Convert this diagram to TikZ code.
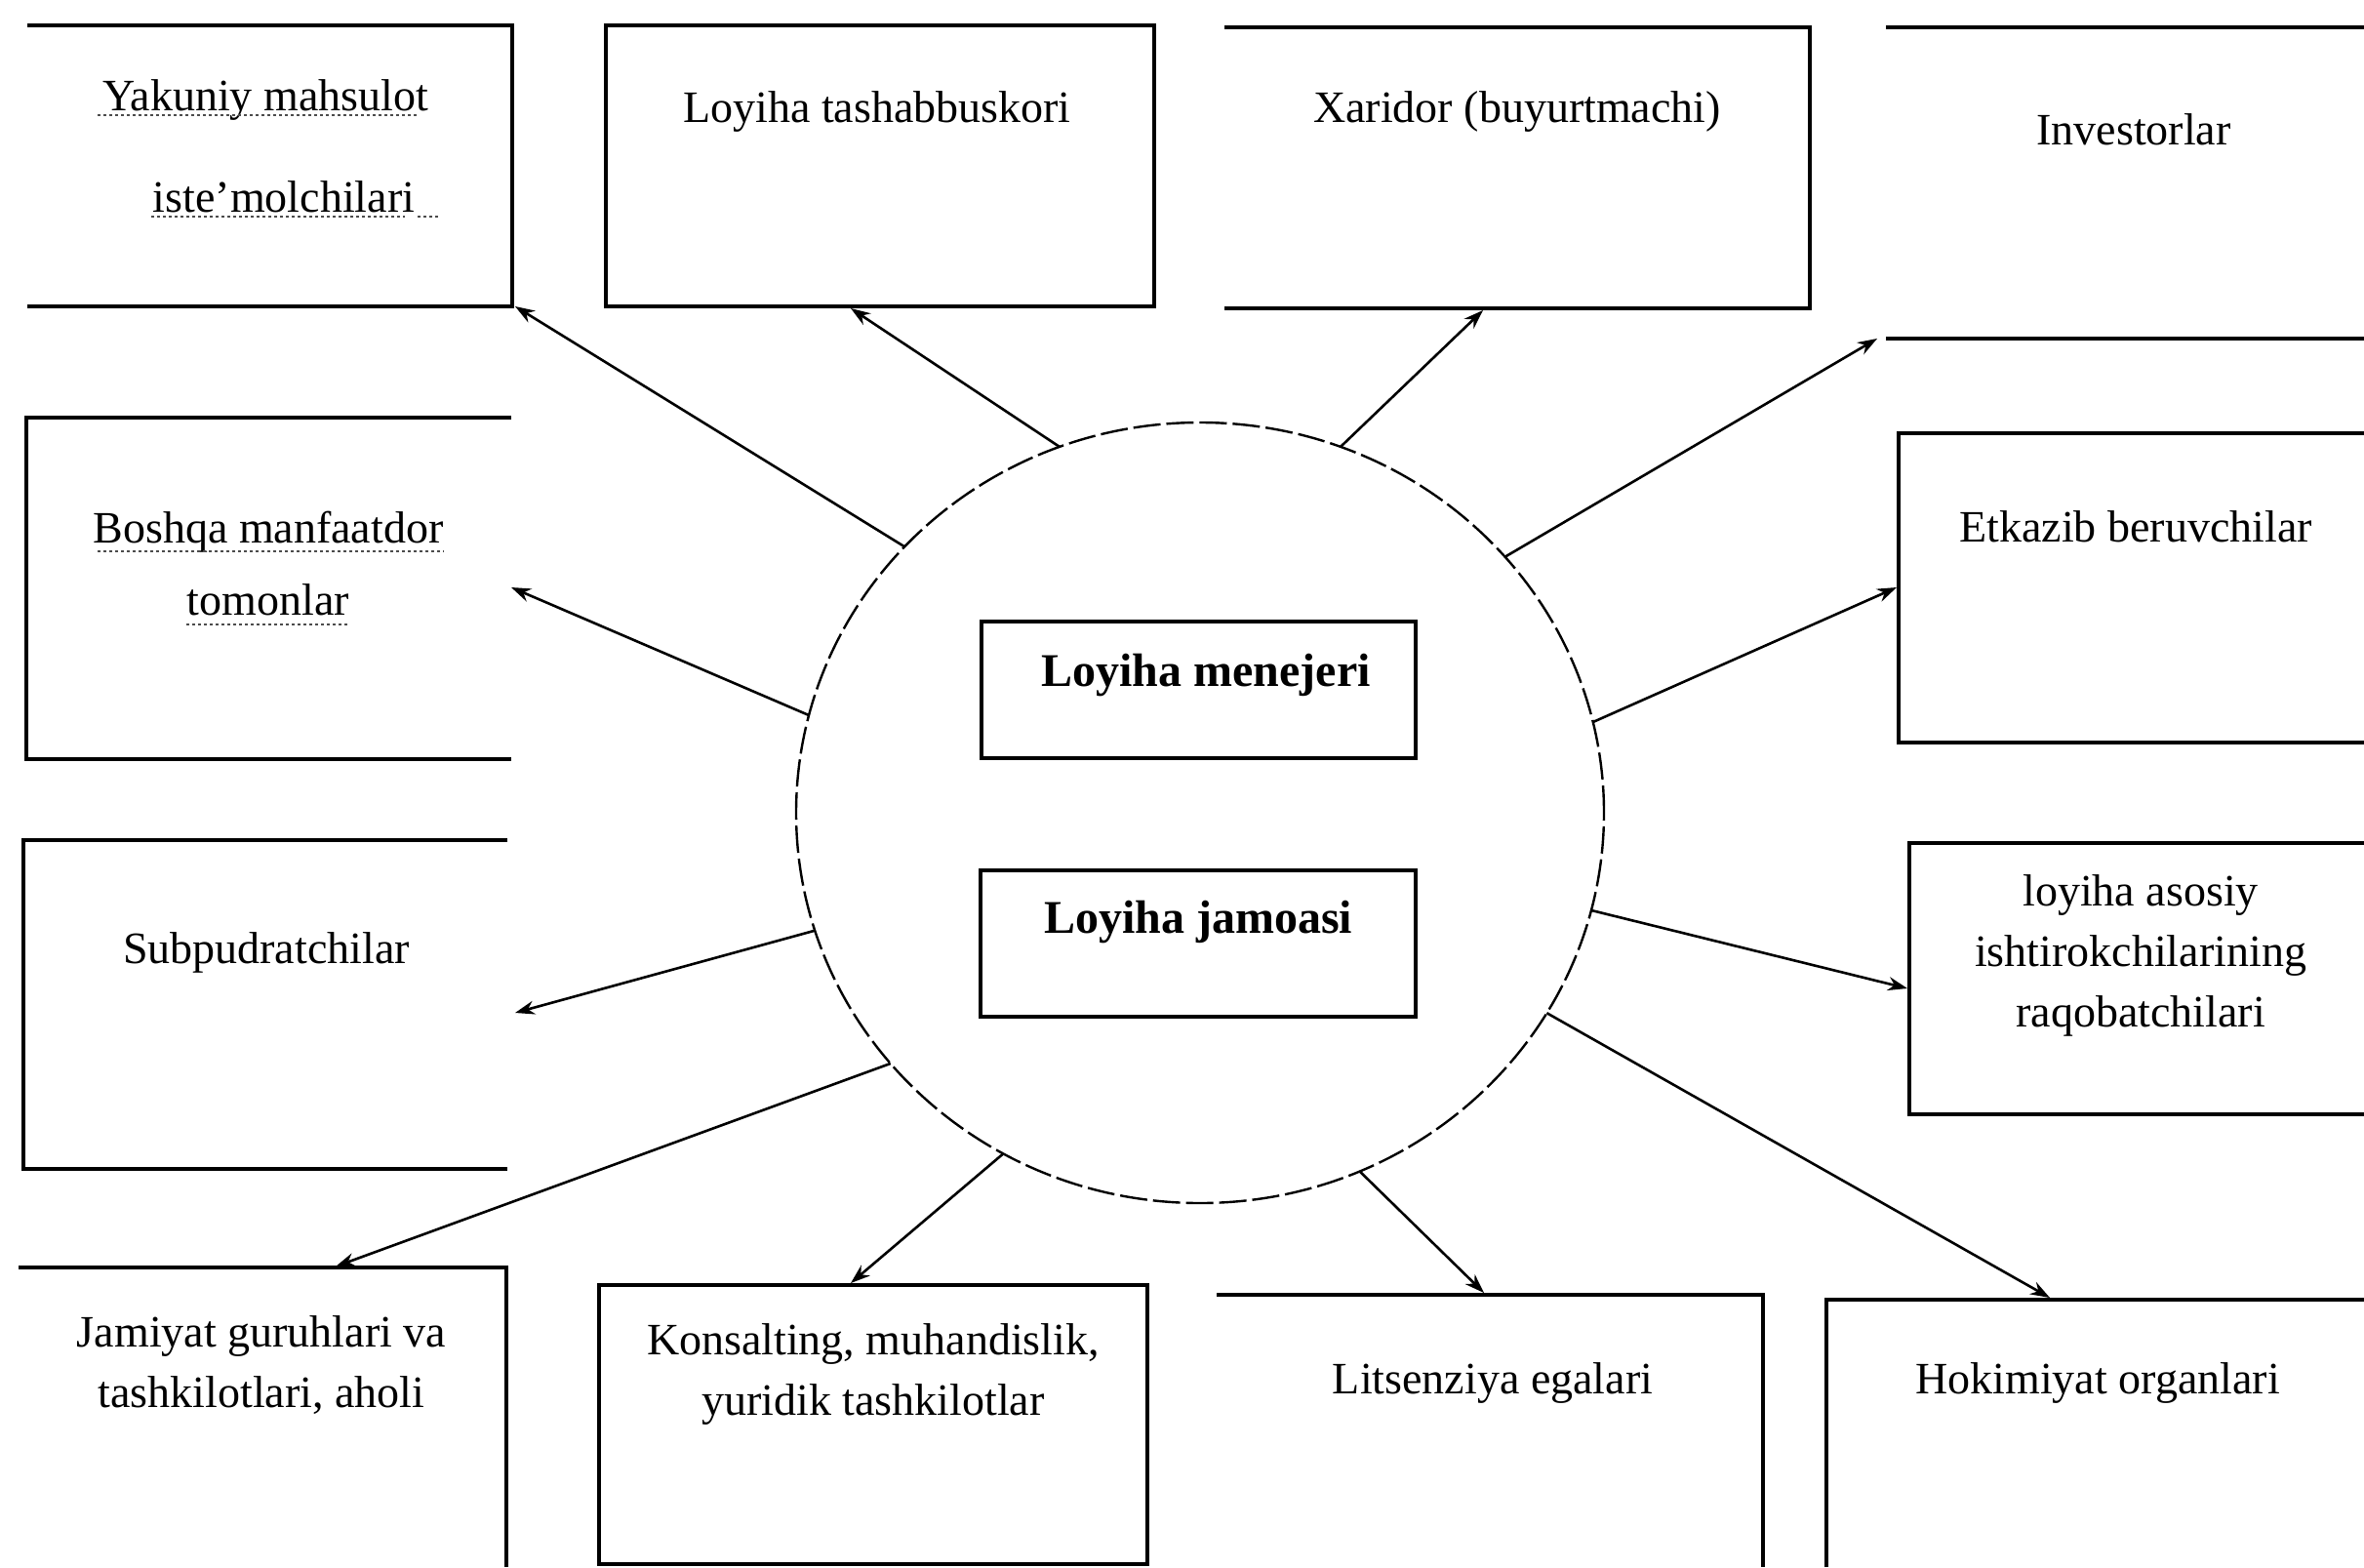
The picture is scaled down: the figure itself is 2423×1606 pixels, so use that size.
\documentclass[tikz,border=0pt]{standalone}
\usepackage{fontspec}
\setmainfont{Liberation Serif}
\usetikzlibrary{arrows.meta,shapes.geometric}
\begin{document}
\begin{tikzpicture}[x=0.5pt,y=-0.5pt,
  edge/.style={line width=1.6pt},
  fullbox/.style={draw,line width=1.6pt,inner sep=0pt,outer sep=0pt},
  conn/.style={line width=1.3pt,-{Stealth[length=10pt,width=7pt]}},
  lbl/.style={font=\fontsize{23}{31}\selectfont,align=center,inner sep=0pt},
  blbl/.style={font=\bfseries\fontsize{24}{30}\selectfont,align=center,inner sep=0pt},
  squig/.style={line width=1pt,dash pattern=on 1.5pt off 1.5pt,black!70}]
\useasboundingbox (0,0) rectangle (2423,1606);
\fill[white] (0,0) rectangle (2423,1606);

% central ellipse
\node[draw,ellipse,line width=1.2pt,dash pattern=on 14pt off 3pt,minimum width=414pt,minimum height=400pt,inner sep=0pt,outer sep=0pt] (c) at (1230,833) {};

% full boxes
\node[fullbox,minimum width=281pt,minimum height=144pt] (tasbox) at (902,170) {};
\node[fullbox,minimum width=222.5pt,minimum height=70pt] (menbox) at (1228.5,707) {};
\node[fullbox,minimum width=223pt,minimum height=75pt] (jambox) at (1228,967) {};
\node[fullbox,minimum width=281pt,minimum height=143pt] (konbox) at (895,1460) {};

% partial boxes
\draw[edge] (28,26) -- (525,26) -- (525,314) -- (28,314);            % Yakuniy
\draw[edge] (1255,28) -- (1855,28) -- (1855,316) -- (1255,316);      % Xaridor
\draw[edge] (1933,28) -- (2423,28);                                   % Investorlar
\draw[edge] (1933,347) -- (2423,347);
\draw[edge] (524,428) -- (27,428) -- (27,778) -- (524,778);          % Boshqa
\draw[edge] (2423,444) -- (1946,444) -- (1946,761) -- (2423,761);    % Etkazib
\draw[edge] (520,861) -- (24,861) -- (24,1198) -- (520,1198);        % Subpudratchilar
\draw[edge] (2423,864) -- (1957,864) -- (1957,1142) -- (2423,1142);  % raqobatchilari
\draw[edge] (19,1299) -- (519,1299) -- (519,1606);                   % Jamiyat
\draw[edge] (1247,1327) -- (1807,1327) -- (1807,1606);               % Litsenziya
\draw[edge] (1872,1606) -- (1872,1332) -- (2423,1332);               % Hokimiyat

% labels
\node[lbl,font=\fontsize{23}{52}\selectfont] (yak) at (272,150) {Yakuniy mahsulot\\\hspace*{19pt}iste’molchilari};
\node[lbl] (tas) at (899,115) {Loyiha tashabbuskori};
\node[lbl] (xar) at (1555,115) {Xaridor (buyurtmachi)};
\node[lbl] (inv) at (2187,133) {Investorlar};
\node[lbl,font=\fontsize{23}{37}\selectfont] (bos) at (275,578) {Boshqa manfaatdor\\tomonlar};
\node[lbl] (etk) at (2189,540) {Etkazib beruvchilar};
\node[blbl] (men) at (1236,692) {Loyiha menejeri};
\node[blbl] (jam) at (1228,945) {Loyiha jamoasi};
\node[lbl] (sub) at (273,976) {Subpudratchilar};
\node[lbl] (raq) at (2194,979) {loyiha asosiy\\ishtirokchilarining\\raqobatchilari};
\node[lbl] (jmy) at (268,1399) {Jamiyat guruhlari va\\tashkilotlari, aholi};
\node[lbl] (kon) at (895,1408) {Konsalting, muhandislik,\\yuridik tashkilotlar};
\node[lbl] (lit) at (1530,1417) {Litsenziya egalari};
\node[lbl] (hok) at (2150,1417) {Hokimiyat organlari};

% spell-check underlines
\draw[squig] (100,118) -- (428,118);
\draw[squig] (155,222) -- (415,222) (428,222) -- (450,222);
\draw[squig] (100,565) -- (455,565);
\draw[squig] (191,640) -- (356,640);

% arrow end points
\coordinate (aYak) at (528,314);
\coordinate (aTas) at (872,316);
\coordinate (aXar) at (1520,318);
\coordinate (aInv) at (1924,347);
\coordinate (aEtk) at (1944,602);
\coordinate (aRaq) at (1955,1013);
\coordinate (aHok) at (2101,1330);
\coordinate (aLit) at (1521,1325);
\coordinate (aKon) at (872,1315);
\coordinate (aJam) at (344,1298);
\coordinate (aSub) at (528,1038);
\coordinate (aBos) at (524,602);

% connectors
\draw[conn] (c.138.6) -- (aYak);
\draw[conn] (c.111.5) -- (aTas);
\draw[conn] (c.69.3) -- (aXar);
\draw[conn] (c.40.5) -- (aInv);
\draw[conn] (c.13.4) -- (aEtk);
\draw[conn] (c.-14.1) -- (aRaq);
\draw[conn] (c.-30.6) -- (aHok);
\draw[conn] (c.-66.1) -- (aLit);
\draw[conn] (c.-120.5) -- (aKon);
\draw[conn] (c.-141.9) -- (aJam);
\draw[conn] (c.-163) -- (aSub);
\draw[conn] (c.166.5) -- (aBos);
\end{tikzpicture}
\end{document}
